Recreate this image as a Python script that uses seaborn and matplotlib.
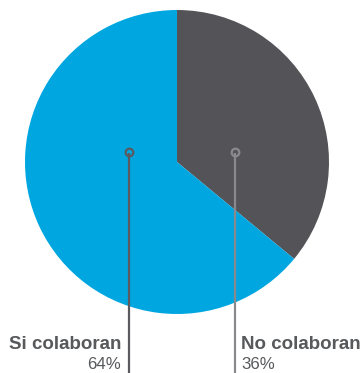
import matplotlib
matplotlib.use("Agg")
import matplotlib.pyplot as plt
import seaborn as sns

# Survey answer shares
categories = ["No colaboran", "Si colaboran"]
shares = [36, 64]
pct_labels = ["36%", "64%"]

sns.set_theme(style="white")
plt.rcParams["font.family"] = ["Liberation Sans", "DejaVu Sans"]

W, H, DPI = 363, 373, 100
fig = plt.figure(figsize=(W / DPI, H / DPI), dpi=DPI)
ax = fig.add_axes([0, 0, 1, 1])

colors = ["#535358", "#00a6e0"]
ax.pie(shares, colors=colors, startangle=90, counterclock=False,
       center=(177, H - 162), radius=152, frame=True,
       wedgeprops=dict(edgecolor="none", linewidth=0))

ax.set_xlim(0, W)
ax.set_ylim(0, H)
ax.set_aspect("equal")
ax.axis("off")

text_color = "#58595b"
px = 72 / DPI

# Leader lines from inside each slice down to its label
leaders = [
    dict(x=235, color="#8a8a8e", ha="left", tx=241),   # No colaboran
    dict(x=128.5, color="#5a5a5f", ha="right", tx=121),  # Si colaboran
]
for cat, pct, ld in zip(categories, pct_labels, leaders):
    ax.plot([ld["x"], ld["x"]], [H - 153, 0], color=ld["color"], lw=1.6,
            solid_capstyle="butt", zorder=3)
    ax.plot([ld["x"]], [H - 152], marker="o", ms=5.5, mfc="none",
            mec=ld["color"], mew=1.6, zorder=4)
    ax.text(ld["tx"], H - 349, cat, ha=ld["ha"], va="baseline",
            fontsize=18.8 * px, fontweight="bold", color=text_color)
    ax.text(ld["tx"], H - 369, pct, ha=ld["ha"], va="baseline",
            fontsize=16.8 * px, color=text_color)

fig.savefig("out.png", dpi=DPI)
